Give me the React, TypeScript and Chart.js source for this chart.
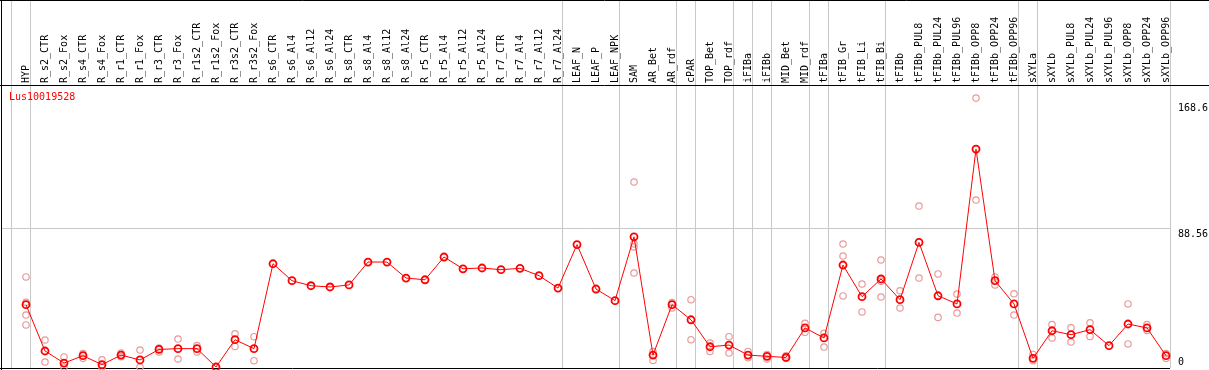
import React, { useEffect, useRef } from 'react';
import { Chart, registerables } from 'chart.js';
Chart.register(...registerables);

const geneLabel = 'Lus10019528';

const categories = [
  'HYP', 'R_s2_CTR', 'R_s2_Fox', 'R_s4_CTR', 'R_s4_Fox', 'R_r1_CTR', 'R_r1_Fox', 'R_r3_CTR', 'R_r3_Fox',
  'R_r1s2_CTR', 'R_r1s2_Fox', 'R_r3s2_CTR', 'R_r3s2_Fox', 'R_s6_CTR', 'R_s6_Al4', 'R_s6_Al12', 'R_s6_Al24',
  'R_s8_CTR', 'R_s8_Al4', 'R_s8_Al12', 'R_s8_Al24', 'R_r5_CTR', 'R_r5_Al4', 'R_r5_Al12', 'R_r5_Al24',
  'R_r7_CTR', 'R_r7_Al4', 'R_r7_Al12', 'R_r7_Al24', 'LEAF_N', 'LEAF_P', 'LEAF_NPK', 'SAM', 'AR_Bet', 'AR_rdf',
  'cPAR', 'TOP_Bet', 'TOP_rdf', 'iFIBa', 'iFIBb', 'MID_Bet', 'MID_rdf', 'tFIBa', 'tFIB_Gr', 'tFIB_Li', 'tFIB_Bi',
  'tFIBb', 'tFIBb_PUL8', 'tFIBb_PUL24', 'tFIBb_PUL96', 'tFIBb_OPP8', 'tFIBb_OPP24', 'tFIBb_OPP96',
  'sXYLa', 'sXYLb', 'sXYLb_PUL8', 'sXYLb_PUL24', 'sXYLb_PUL96', 'sXYLb_OPP8', 'sXYLb_OPP24', 'sXYLb_OPP96',
];

const means = [
  39.7, 10.2, 2.5, 7.2, 1.5, 7.6, 4.5, 11.2, 11.7,
  11.7, 0, 17.4, 11.7, 65.8, 55.0, 51.8, 51.0,
  52.3, 66.9, 66.9, 56.7, 55.6, 70.1, 62.6, 63.1,
  62.0, 62.9, 58.2, 50.3, 78.0, 49.7, 42.3, 83.0, 7.6, 39.7,
  30.1, 12.9, 14.0, 7.6, 6.8, 6.1, 24.9, 18.5, 65.0, 44.8, 56.1,
  42.9, 79.4, 45.4, 40.2, 138.9, 55.0, 40.2,
  5.5, 23.1, 20.6, 23.8, 13.6, 27.4, 24.9, 7.2,
];

const replicates: number[][] = [
  [57.4, 41.2, 33.1, 26.8], [17.2, 3.2], [6.4, 0], [8.5, 5.5], [4.6, 0], [8.9, 6.5], [10.8, 0], [12.1, 9.6], [17.8, 5.1],
  [13.6, 9.6], [], [21.2, 13.1], [19.3, 4.0], [], [], [], [],
  [], [], [], [], [], [], [], [],
  [], [], [], [], [], [], [], [117.9, 78.5, 76.5, 59.9], [9.8, 4.2], [37.6, 41.0],
  [42.9, 17.4], [15.3, 9.9], [19.3, 8.9], [9.9, 5.9], [5.1, 8.0], [7.1, 5.5], [27.8, 22.1], [21.4, 12.7], [78.4, 70.7, 45.3], [52.9, 35.1], [68.2, 54.6, 44.6],
  [48.6, 37.6], [102.6, 56.7], [59.3, 31.6], [46.5, 34.4], [171.4, 106.4], [57.4, 52.3], [46.7, 33.1],
  [8.0, 4.0], [27.0, 18.5], [25.0, 15.9], [28.2, 19.5], [], [40.2, 14.7], [27.0, 23.3], [8.5, 5.5],
];

const yTicks = [0, 88.56, 168.6];
const yTickLabels = ['0', '88.56', '168.6'];
const gridValues = [88.56];
// category indices after which a group separator is drawn (-1 = before the first)
const groupBreaks = [-1, 0, 28, 31, 34, 35, 37, 38, 39, 41, 42, 45, 52, 53, 60];

const FONT = '10px "DejaVu Sans Mono", monospace';

const decorPlugin = {
  id: 'decor',
  beforeDatasetsDraw(chart: any) {
    const { ctx, chartArea, scales } = chart;
    const xs = scales.x;
    const ys = scales.y;
    const W = chart.width;
    ctx.save();
    ctx.lineWidth = 1;
    ctx.strokeStyle = '#c8c8c8';
    groupBreaks.forEach((b) => {
      const px = Math.round(xs.getPixelForValue(b + 0.22)) + 0.5;
      ctx.beginPath();
      ctx.moveTo(px, 0);
      ctx.lineTo(px, chartArea.bottom + 1);
      ctx.stroke();
    });
    gridValues.forEach((v) => {
      const py = Math.round(ys.getPixelForValue(v)) + 0.5;
      ctx.beginPath();
      ctx.moveTo(chartArea.left, py);
      ctx.lineTo(chartArea.right, py);
      ctx.stroke();
    });
    ctx.strokeStyle = '#000';
    ctx.beginPath();
    ctx.moveTo(0, 0.5);
    ctx.lineTo(W, 0.5);
    ctx.moveTo(0, 85.5);
    ctx.lineTo(W, 85.5);
    ctx.moveTo(1.5, 0);
    ctx.lineTo(1.5, chart.height);
    ctx.moveTo(0, chartArea.bottom + 1.5);
    ctx.lineTo(chartArea.right, chartArea.bottom + 1.5);
    ctx.stroke();
    ctx.restore();
  },
  afterDraw(chart: any) {
    const { ctx, chartArea, scales } = chart;
    const xs = scales.x;
    const ys = scales.y;
    ctx.save();
    ctx.font = FONT;
    ctx.fillStyle = '#000';
    categories.forEach((c, i) => {
      const px = xs.getPixelForValue(i);
      ctx.save();
      ctx.translate(px + 0.5, 83);
      ctx.rotate(-Math.PI / 2);
      ctx.textAlign = 'left';
      ctx.textBaseline = 'middle';
      ctx.fillText(c, 0, 0);
      ctx.restore();
    });
    ctx.textAlign = 'left';
    yTicks.forEach((v, k) => {
      const py = ys.getPixelForValue(v);
      if (v === 0) {
        ctx.textBaseline = 'bottom';
        ctx.fillText(yTickLabels[k], chartArea.right + 8, py);
      } else {
        ctx.textBaseline = 'top';
        ctx.fillText(yTickLabels[k], chartArea.right + 8, py + 1);
      }
    });
    ctx.fillStyle = '#ff0000';
    ctx.textBaseline = 'middle';
    ctx.fillText(geneLabel, 9, 97);
    ctx.restore();
  },
};

export default function App() {
  const ref = useRef<HTMLCanvasElement | null>(null);
  useEffect(() => {
    if (!ref.current) return;
    const meanData = means.map((v, i) => ({ x: i, y: v }));
    const repData: { x: number; y: number }[] = [];
    replicates.forEach((arr, i) => arr.forEach((v) => repData.push({ x: i, y: v })));
    const chart = new Chart(ref.current, {
      type: 'line',
      data: {
        datasets: [
          {
            label: 'mean',
            data: meanData,
            borderColor: '#ff0000',
            borderWidth: 1,
            pointRadius: 3.5,
            pointBorderWidth: 1.8,
            pointBorderColor: '#ff0000',
            pointBackgroundColor: 'rgba(0,0,0,0)',
            tension: 0,
            clip: false,
            order: 0,
          } as any,
          {
            label: 'replicates',
            data: repData,
            showLine: false,
            borderColor: '#e99a9a',
            pointRadius: 3.2,
            pointBorderWidth: 1.2,
            pointBorderColor: '#e99a9a',
            pointBackgroundColor: 'rgba(0,0,0,0)',
            clip: false,
            order: 1,
          } as any,
        ],
      },
      options: {
        responsive: false,
        animation: false,
        devicePixelRatio: 1,
        layout: { autoPadding: false, padding: { left: 1, right: 39, top: 86, bottom: 3 } },
        plugins: { legend: { display: false }, tooltip: { enabled: false } },
        scales: {
          x: { type: 'linear', display: false, min: -1.3158, max: 60.21 },
          y: { type: 'linear', display: false, min: 0, max: 179.1 },
        },
      },
      plugins: [decorPlugin],
    });
    return () => chart.destroy();
  }, []);
  return (
    <div style={{ position: 'fixed', left: 0, top: 0, width: 1209, height: 370, background: '#fff' }}>
      <canvas ref={ref} width={1209} height={370} style={{ display: 'block' }} />
    </div>
  );
}
